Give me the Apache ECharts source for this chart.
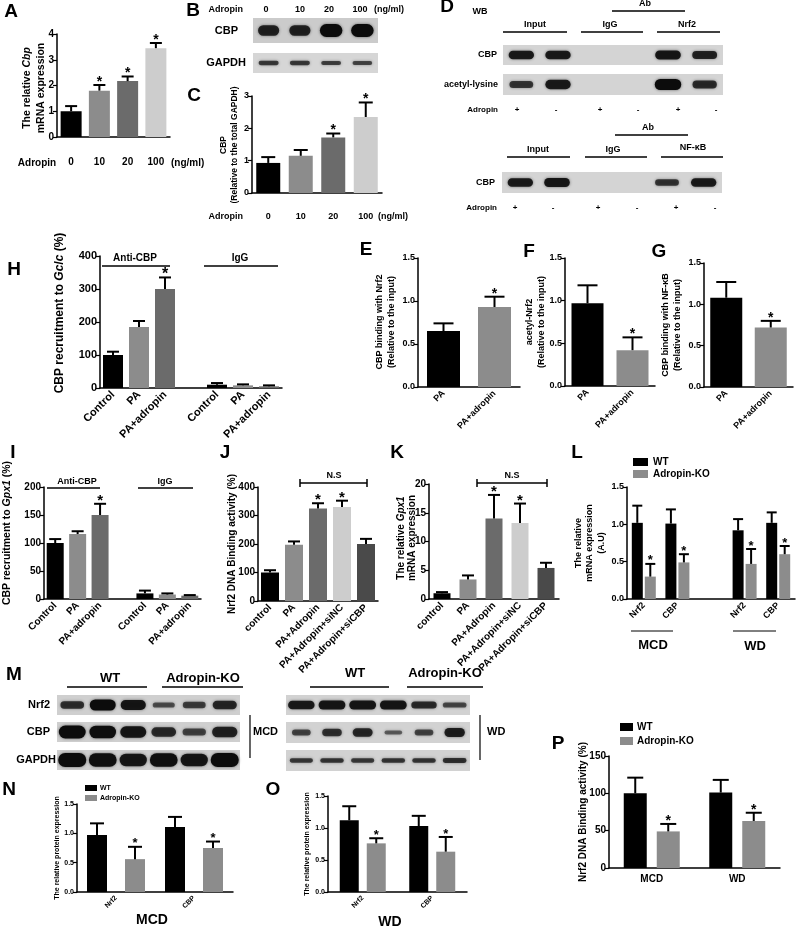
<!DOCTYPE html>
<html><head><meta charset="utf-8">
<script src="https://cdn.jsdelivr.net/npm/echarts@6/dist/echarts.min.js"></script>
<style>html,body{margin:0;padding:0;background:#fff}#c{width:796px;height:928px}</style>
</head><body><div id="c"></div>
<script>
// ================= DATA =================
const doseCats = ['0','10','20','100'];
const A_vals = [1.0, 1.8, 2.17, 3.45];
const A_errs = [0.2, 0.22, 0.18, 0.2];
const A_stars = [0, 1, 1, 1];
const C_vals = [0.93, 1.15, 1.72, 2.35];
const C_errs = [0.18, 0.18, 0.12, 0.45];
const C_stars = [0, 0, 1, 1];

const paCats = ['PA', 'PA+adropin'];
const E_vals = [0.65, 0.93];  const E_errs = [0.09, 0.12]; const E_stars = [0, 1];
const F_vals = [0.97, 0.42];  const F_errs = [0.21, 0.15]; const F_stars = [0, 1];
const G_vals = [1.08, 0.72];  const G_errs = [0.19, 0.08]; const G_stars = [0, 1];

const chipCats = ['Control', 'PA', 'PA+adropin', '', 'Control', 'PA', 'PA+adropin'];
const H_vals = [100, 185, 300, null, 10, 8, 5];
const H_errs = [10, 18, 35, null, 5, 3, 3];
const H_stars = [0, 0, 1, 0, 0, 0, 0];
const I_vals = [100, 116, 150, null, 10, 8, 6];
const I_errs = [7, 5, 20, null, 5, 2, 1];
const I_stars = [0, 0, 1, 0, 0, 0, 0];

const siCats = ['control', 'PA', 'PA+Adropin', 'PA+Adropin+siNC', 'PA+Adropin+siCBP'];
const J_vals = [100, 197, 325, 330, 200];
const J_errs = [8, 12, 18, 22, 18];
const J_stars = [0, 0, 1, 1, 0];
const K_vals = [1.0, 3.4, 14.0, 13.2, 5.4];
const K_errs = [0.2, 0.7, 4.1, 3.4, 0.9];
const K_stars = [0, 0, 1, 1, 0];

const geneCats = ['Nrf2', 'CBP', '', 'Nrf2', 'CBP'];
const L_wt = [1.02, 1.01, null, 0.92, 1.02];
const L_wtErr = [0.23, 0.19, null, 0.15, 0.14];
const L_ko = [0.30, 0.49, null, 0.47, 0.60];
const L_koErr = [0.17, 0.11, null, 0.20, 0.11];
const L_koStars = [1, 1, 0, 1, 1];

const protCats = ['Nrf2', 'CBP'];
const N_wt = [0.97, 1.11]; const N_wtErr = [0.20, 0.17];
const N_ko = [0.56, 0.75]; const N_koErr = [0.21, 0.11];
const O_wt = [1.12, 1.03]; const O_wtErr = [0.22, 0.16];
const O_ko = [0.76, 0.63]; const O_koErr = [0.08, 0.23];
const dietCats = ['MCD', 'WD'];
const P_wt = [100, 101]; const P_wtErr = [21, 17];
const P_ko = [49, 63];   const P_koErr = [10, 11];
const koStars2 = [1, 1];

// western blot band intensities (relative, 0-1) per lane
const B_cbp = [0.7, 0.7, 1.0, 1.0];
const B_gapdh = [0.45, 0.45, 0.4, 0.35];
const D_cbp = [0.8, 0.8, 0, 0, 0.85, 0.7];
const D_acetyl = [0.5, 0.8, 0, 0, 1.0, 0.6];
const D2_cbp = [0.8, 0.85, 0, 0, 0.5, 0.8];
const ML_nrf2 = [0.55, 1.0, 0.85, 0.25, 0.4, 0.65];
const ML_cbp = [1.0, 0.95, 0.85, 0.6, 0.35, 0.7];
const ML_gapdh = [1.0, 0.95, 0.85, 0.95, 0.85, 1.0];
const MR_nrf2 = [0.8, 0.85, 0.85, 0.85, 0.6, 0.3];
const MR_cbp = [0.35, 0.55, 0.65, 0.12, 0.35, 0.75];
const MR_gapdh = [0.45, 0.5, 0.45, 0.5, 0.5, 0.55];

// ================= STYLE / BUILD =================
const FONT = '"Liberation Sans", Arial, Helvetica, sans-serif';
const PAL = ['#000000', '#8c8c8c', '#6b6b6b', '#cdcdcd', '#4a4a4a'];
const KO = '#8c8c8c';
const grids = [], xAxes = [], yAxes = [], series = [], graphics = [];

function errRenderer(off, capHalf, starSize) {
  return function (params, api) {
    const i = api.value(0), v = api.value(1), e = api.value(2), s = api.value(3);
    const p0 = api.coord([i, v]), p1 = api.coord([i, v + e]);
    const x = p0[0] + off;
    const ch = [
      {type: 'line', shape: {x1: x, y1: p0[1], x2: x, y2: p1[1]}, style: {stroke: '#000', lineWidth: 2}},
      {type: 'line', shape: {x1: x - capHalf, y1: p1[1], x2: x + capHalf, y2: p1[1]}, style: {stroke: '#000', lineWidth: 2}}
    ];
    if (s) ch.push({type: 'text', x: x, y: p1[1] - 3, style: {text: '*', fill: '#000', font: 'bold ' + starSize + 'px ' + FONT, align: 'center', verticalAlign: 'middle'}});
    return {type: 'group', children: ch};
  };
}

function addChart(c) {
  const gi = grids.length;
  grids.push({left: c.left, top: c.top, width: c.width, height: c.height});
  xAxes.push({type: 'category', gridIndex: gi, data: c.cats,
    axisLine: {lineStyle: {color: '#000', width: 1.5}},
    axisTick: {alignWithLabel: true, length: 4, lineStyle: {color: '#000', width: 1.2}},
    axisLabel: {color: '#000', fontFamily: FONT, fontWeight: 'bold', fontSize: c.xFont, rotate: c.rotate || 0, margin: c.xMargin || 5, interval: 0},
    splitLine: {show: false}});
  yAxes.push({type: 'value', gridIndex: gi, min: 0, max: c.max, interval: c.interval,
    axisLine: {show: true, lineStyle: {color: '#000', width: 1.5}},
    axisTick: {show: true, length: 4, lineStyle: {color: '#000', width: 1.2}},
    axisLabel: {color: '#000', fontFamily: FONT, fontWeight: 'bold', fontSize: c.yFont, margin: 3,
      formatter: c.dec ? (v => v.toFixed(c.dec)) : undefined},
    splitLine: {show: false}});
  const n = c.groups.length;
  const gapPx = c.gapPx || 0;
  c.groups.forEach((g, k) => {
    series.push({type: 'bar', xAxisIndex: gi, yAxisIndex: gi, barWidth: c.barWidth,
      barGap: (gapPx / c.barWidth * 100) + '%',
      data: g.vals.map((v, i) => ({value: v, itemStyle: {color: g.colors ? g.colors[i] : g.color}})),
      z: 2, silent: true});
  });
  c.groups.forEach((g, k) => {
    const off = (k - (n - 1) / 2) * (c.barWidth + gapPx);
    const d = [];
    g.vals.forEach((v, i) => { if (v != null) d.push([i, v, g.errs[i], g.stars[i]]); });
    series.push({type: 'custom', xAxisIndex: gi, yAxisIndex: gi, renderItem: errRenderer(off, c.cap, c.starSize || 14),
      data: d, z: 3, clip: false, silent: true});
  });
}

function addBlot(b) {
  const gi = grids.length;
  grids.push({left: b.left, top: b.top, width: b.width, height: b.height, show: true, backgroundColor: b.bg || '#d0d0d0', borderWidth: 0});
  xAxes.push({type: 'category', gridIndex: gi, data: b.bands.map((_, i) => 'L' + i), show: false});
  yAxes.push({type: 'value', gridIndex: gi, min: 0, max: 1, show: false});
  series.push({type: 'custom', xAxisIndex: gi, yAxisIndex: gi, silent: true, z: 2,
    data: b.bands.map((v, i) => [i, 0.5, v]),
    renderItem: function (params, api) {
      const I = api.value(2);
      if (I <= 0.01) return null;
      const c = api.coord([api.value(0), 0.5]);
      const lw = api.size([1, 0])[0];
      const w = lw * (b.bw || 0.72) * (0.8 + 0.2 * I);
      const h = b.maxH * (0.3 + 0.7 * I);
      return {type: 'rect', shape: {x: c[0] - w / 2, y: c[1] - h / 2 + (b.dy || 0), width: w, height: h, r: h / 2},
        style: {fill: 'rgba(12,12,12,' + (0.45 + 0.55 * I) + ')', shadowBlur: 3, shadowColor: 'rgba(0,0,0,0.55)'}};
    }});
}

function T(x, y, text, size, o) {
  o = o || {};
  const st = {text: text, fill: '#000', font: (o.italic ? 'italic ' : '') + (o.normal ? '' : 'bold ') + size + 'px ' + FONT,
    align: o.align || 'center', verticalAlign: o.va || 'middle'};
  if (o.lh) st.lineHeight = o.lh;
  if (o.rich) st.rich = o.rich;
  graphics.push({type: 'text', x: x, y: y, rotation: o.rot ? Math.PI / 2 : 0, style: st, z: 10, silent: true});
}
function Ln(x1, y1, x2, y2, w) {
  graphics.push({type: 'line', shape: {x1: x1, y1: y1, x2: x2, y2: y2}, style: {stroke: '#000', lineWidth: w || 1.5}, z: 10, silent: true});
}
function Rc(x, y, w, h, col) {
  graphics.push({type: 'rect', shape: {x: x, y: y, width: w, height: h}, style: {fill: col}, z: 10, silent: true});
}
function itRich(size) { return {it: {font: 'italic bold ' + size + 'px ' + FONT}}; }

// ---------- bar charts ----------
addChart({left: 57, top: 34, width: 113, height: 103, cats: doseCats, max: 4, interval: 1, yFont: 10, xFont: 10, xMargin: 20,
  barWidth: 21, cap: 6, groups: [{vals: A_vals, errs: A_errs, stars: A_stars, colors: PAL}]});
addChart({left: 252, top: 96, width: 130, height: 97, cats: doseCats, max: 3, interval: 1, yFont: 9, xFont: 9, xMargin: 19,
  barWidth: 24, cap: 7, groups: [{vals: C_vals, errs: C_errs, stars: C_stars, colors: PAL}]});
addChart({left: 418, top: 258, width: 102, height: 129, cats: paCats, max: 1.5, interval: 0.5, dec: 1, yFont: 9, xFont: 9, rotate: 45,
  barWidth: 33, cap: 10, groups: [{vals: E_vals, errs: E_errs, stars: E_stars, colors: PAL}]});
addChart({left: 565, top: 258, width: 90, height: 128, cats: paCats, max: 1.5, interval: 0.5, dec: 1, yFont: 9, xFont: 9, rotate: 45,
  barWidth: 32, cap: 10, groups: [{vals: F_vals, errs: F_errs, stars: F_stars, colors: PAL}]});
addChart({left: 704, top: 263, width: 89, height: 124, cats: paCats, max: 1.5, interval: 0.5, dec: 1, yFont: 9, xFont: 9, rotate: 45,
  barWidth: 32, cap: 10, groups: [{vals: G_vals, errs: G_errs, stars: G_stars, colors: PAL}]});
const chipCol = [PAL[0], PAL[1], PAL[2], PAL[0], PAL[0], PAL[1], PAL[2]];
addChart({left: 100, top: 256, width: 182, height: 132, cats: chipCats, max: 400, interval: 100, yFont: 11, xFont: 11, rotate: 45,
  barWidth: 20, cap: 6, starSize: 16, groups: [{vals: H_vals, errs: H_errs, stars: H_stars, colors: chipCol}]});
addChart({left: 44, top: 487, width: 157, height: 112, cats: chipCats, max: 200, interval: 50, yFont: 10, xFont: 10, rotate: 45,
  barWidth: 17, cap: 6, starSize: 15, groups: [{vals: I_vals, errs: I_errs, stars: I_stars, colors: chipCol}]});
addChart({left: 258, top: 487, width: 120, height: 114, cats: siCats, max: 400, interval: 100, yFont: 10, xFont: 10, rotate: 45,
  barWidth: 18, cap: 6, starSize: 15, groups: [{vals: J_vals, errs: J_errs, stars: J_stars, colors: PAL}]});
addChart({left: 429, top: 484, width: 130, height: 115, cats: siCats, max: 20, interval: 5, yFont: 10, xFont: 10, rotate: 45,
  barWidth: 17, cap: 6, starSize: 15, groups: [{vals: K_vals, errs: K_errs, stars: K_stars, colors: PAL}]});
addChart({left: 627, top: 487, width: 168, height: 112, cats: geneCats, max: 1.5, interval: 0.5, dec: 1, yFont: 9, xFont: 9, rotate: 45,
  barWidth: 11, gapPx: 2, cap: 5, starSize: 13,
  groups: [{vals: L_wt, errs: L_wtErr, stars: [0, 0, 0, 0, 0], color: '#000'}, {vals: L_ko, errs: L_koErr, stars: L_koStars, color: KO}]});
addChart({left: 77, top: 804, width: 156, height: 88, cats: protCats, max: 1.5, interval: 0.5, dec: 1, yFont: 7, xFont: 7, rotate: 45,
  barWidth: 20, gapPx: 18, cap: 7, starSize: 13,
  groups: [{vals: N_wt, errs: N_wtErr, stars: [0, 0], color: '#000'}, {vals: N_ko, errs: N_koErr, stars: koStars2, color: KO}]});
addChart({left: 328, top: 796, width: 139, height: 96, cats: protCats, max: 1.5, interval: 0.5, dec: 1, yFont: 7, xFont: 7, rotate: 45,
  barWidth: 19, gapPx: 8, cap: 7, starSize: 13,
  groups: [{vals: O_wt, errs: O_wtErr, stars: [0, 0], color: '#000'}, {vals: O_ko, errs: O_koErr, stars: koStars2, color: KO}]});
addChart({left: 609, top: 756, width: 171, height: 112, cats: dietCats, max: 150, interval: 50, yFont: 10, xFont: 10, xMargin: 6,
  barWidth: 23, gapPx: 10, cap: 8, starSize: 14,
  groups: [{vals: P_wt, errs: P_wtErr, stars: [0, 0], color: '#000'}, {vals: P_ko, errs: P_koErr, stars: koStars2, color: KO}]});

// ---------- blots ----------
addBlot({left: 253, top: 18, width: 125, height: 25, bands: B_cbp, maxH: 13, bg: '#cbcbcb'});
addBlot({left: 253, top: 53, width: 125, height: 20, bands: B_gapdh, maxH: 7, bg: '#d6d6d6'});
addBlot({left: 503, top: 45, width: 220, height: 20, bands: D_cbp, maxH: 10, bg: '#d4d4d4'});
addBlot({left: 503, top: 74, width: 220, height: 21, bands: D_acetyl, maxH: 11, bg: '#d4d4d4'});
addBlot({left: 502, top: 172, width: 220, height: 21, bands: D2_cbp, maxH: 10, bg: '#d4d4d4'});
addBlot({left: 57, top: 695, width: 183, height: 20, bands: ML_nrf2, maxH: 11, bw: 0.85, bg: '#cfcfcf'});
addBlot({left: 57, top: 722, width: 183, height: 20, bands: ML_cbp, maxH: 13, bw: 0.88, bg: '#cfcfcf'});
addBlot({left: 57, top: 750, width: 183, height: 20, bands: ML_gapdh, maxH: 14, bw: 0.92, bg: '#cfcfcf'});
addBlot({left: 286, top: 695, width: 184, height: 20, bands: MR_nrf2, maxH: 10, bw: 0.9, bg: '#d2d2d2'});
addBlot({left: 286, top: 722, width: 184, height: 21, bands: MR_cbp, maxH: 11, bw: 0.7, bg: '#d2d2d2'});
addBlot({left: 286, top: 750, width: 184, height: 21, bands: MR_gapdh, maxH: 7, bw: 0.85, bg: '#d2d2d2'});

// ---------- texts ----------
const LS = 19;
T(11, 12, 'A', LS); T(193, 11, 'B', LS); T(194, 96, 'C', LS); T(447, 7, 'D', LS);
T(366, 250, 'E', LS); T(529, 252, 'F', LS); T(659, 252, 'G', LS); T(14, 270, 'H', LS);
T(13, 453, 'I', LS); T(225, 453, 'J', LS); T(397, 453, 'K', LS); T(577, 453, 'L', LS);
T(14, 675, 'M', LS); T(9, 790, 'N', LS); T(273, 790, 'O', LS); T(558, 744, 'P', LS);

// A
T(34, 88, 'The relative {it|Cbp}\nmRNA expression', 10.5, {rot: 1, lh: 14, rich: itRich(10.5)});
T(37, 163, 'Adropin', 10); T(171, 163, '(ng/ml)', 10, {align: 'left'});
// B
T(243, 10, 'Adropin', 9, {align: 'right'});
T(266, 10, '0', 9); T(300, 10, '10', 9); T(329, 10, '20', 9); T(360, 10, '100', 9); T(374, 10, '(ng/ml)', 9, {align: 'left'});
T(238, 31, 'CBP', 11, {align: 'right'}); T(246, 63, 'GAPDH', 11, {align: 'right'});
// C
T(229, 145, 'CBP\n(Relative to the total GAPDH)', 8.5, {rot: 1, lh: 11});
T(243, 217, 'Adropin', 9, {align: 'right'}); T(378, 217, '(ng/ml)', 9, {align: 'left'});
// D
T(480, 12, 'WB', 9);
T(645, 4, 'Ab', 9); Ln(612, 11, 685, 11);
T(535, 25, 'Input', 9); Ln(503, 32, 567, 32);
T(610, 25, 'IgG', 9); Ln(581, 32, 643, 32);
T(687, 25, 'Nrf2', 9); Ln(657, 32, 720, 32);
T(497, 55, 'CBP', 9, {align: 'right'}); T(498, 85, 'acetyl-lysine', 9, {align: 'right'});
T(498, 110, 'Adropin', 8, {align: 'right'});
[['+', 517], ['-', 556], ['+', 600], ['-', 638], ['+', 678], ['-', 716]].forEach(p => T(p[1], 110, p[0], 8));
T(648, 128, 'Ab', 9); Ln(615, 135, 688, 135);
T(538, 150, 'Input', 9); Ln(507, 157, 570, 157);
T(613, 150, 'IgG', 9); Ln(585, 157, 647, 157);
T(693, 148, 'NF-κB', 9); Ln(661, 157, 723, 157);
T(495, 183, 'CBP', 9, {align: 'right'});
T(497, 208, 'Adropin', 8, {align: 'right'});
[['+', 515], ['-', 553], ['+', 598], ['-', 637], ['+', 676], ['-', 715]].forEach(p => T(p[1], 208, p[0], 8));
// E F G
T(386, 322, 'CBP binding with Nrf2\n(Relative to the input)', 9, {rot: 1, lh: 12});
T(536, 322, 'acetyl-Nrf2\n(Relative to the input)', 9, {rot: 1, lh: 12});
T(672, 325, 'CBP binding with NF-κB\n(Relative to the input)', 9, {rot: 1, lh: 12});
// H
T(60, 313, 'CBP recruitment to {it|Gclc} (%)', 12, {rot: 1, rich: itRich(12)});
T(135, 258, 'Anti-CBP', 10); Ln(102, 266, 170, 266);
T(240, 258, 'IgG', 10); Ln(204, 266, 278, 266);
// I
T(7, 533, 'CBP recruitment to {it|Gpx1} (%)', 10.5, {rot: 1, rich: itRich(10.5)});
T(77, 482, 'Anti-CBP', 9); Ln(47, 488, 100, 488);
T(165, 482, 'IgG', 9); Ln(138, 488, 193, 488);
// J
T(232, 544, 'Nrf2 DNA Binding activity (%)', 10, {rot: 1});
T(334, 476, 'N.S', 9); Ln(300, 483, 367, 483); Ln(300, 479, 300, 487); Ln(367, 479, 367, 487);
// K
T(407, 538, 'The relative {it|Gpx1}\nmRNA expression', 10, {rot: 1, lh: 11, rich: itRich(10)});
T(512, 476, 'N.S', 9); Ln(477, 483, 547, 483); Ln(477, 479, 477, 487); Ln(547, 479, 547, 487);
// L
Rc(633, 458, 15, 8, '#000'); Rc(633, 470, 15, 8, KO);
T(653, 462, 'WT', 10, {align: 'left'}); T(653, 474, 'Adropin-KO', 10, {align: 'left'});
T(590, 543, 'The relative\nmRNA expression\n(A.U)', 9, {rot: 1, lh: 11.5});
Ln(631, 631, 673, 631, 1); T(653, 645, 'MCD', 13);
Ln(733, 631, 776, 631, 1); T(755, 646, 'WD', 13);
// M
T(110, 678, 'WT', 13); Ln(67, 687, 147, 687);
T(203, 678, 'Adropin-KO', 13); Ln(162, 687, 243, 687);
T(355, 673, 'WT', 13); Ln(310, 687, 389, 687);
T(445, 673, 'Adropin-KO', 13); Ln(407, 687, 483, 687);
T(50, 705, 'Nrf2', 11, {align: 'right'}); T(50, 732, 'CBP', 11, {align: 'right'}); T(56, 760, 'GAPDH', 11, {align: 'right'});
Ln(250, 715, 250, 758, 1.2); T(253, 732, 'MCD', 11, {align: 'left'});
Ln(480, 715, 480, 760, 1.2); T(487, 732, 'WD', 11, {align: 'left'});
// N
Rc(85, 785, 12, 6, '#000'); Rc(85, 795, 12, 6, KO);
T(100, 788, 'WT', 7, {align: 'left'}); T(100, 798, 'Adropin-KO', 7, {align: 'left'});
T(57, 848, 'The relative protein expression', 7, {rot: 1});
T(152, 920, 'MCD', 14);
// O
T(307, 844, 'The relative protein expression', 7, {rot: 1});
T(390, 922, 'WD', 14);
// P
Rc(620, 723, 13, 8, '#000'); Rc(620, 737, 13, 8, KO);
T(637, 727, 'WT', 10, {align: 'left'}); T(637, 741, 'Adropin-KO', 10, {align: 'left'});
T(583, 812, 'Nrf2 DNA Binding activity (%)', 10, {rot: 1});

const chart = echarts.init(document.getElementById('c'), null, {renderer: 'canvas'});
chart.setOption({
  animation: false,
  backgroundColor: '#fff',
  textStyle: {fontFamily: FONT},
  grid: grids, xAxis: xAxes, yAxis: yAxes, series: series, graphic: graphics
});
</script></body></html>
